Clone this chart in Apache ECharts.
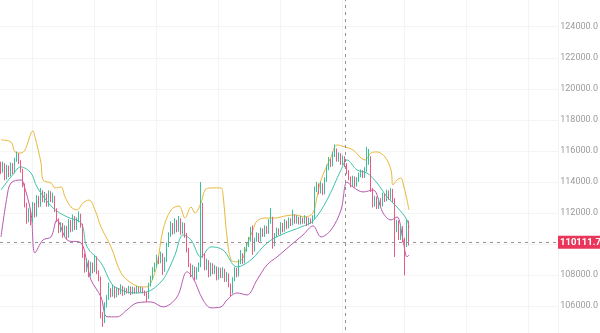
<!DOCTYPE html>
<html>
<head>
<meta charset="utf-8">
<script src="https://cdn.jsdelivr.net/npm/echarts@6/dist/echarts.min.js"></script>
<style>
html,body{margin:0;padding:0;background:#fff;}
#chart{width:600px;height:333px;}
</style>
</head>
<body>
<div id="chart"></div>
<script>
// ---- data ----
// candles: [open, close, low, high]
const candles = [
[115100,114760,114500,115300],[114760,115090,114600,115300],[115090,114250,114100,115200],[114250,114900,114150,115100],
[114900,114440,114300,115050],[114440,115090,114350,115250],[115090,114630,114500,115200],[114630,115410,114550,115550],
[115410,115730,115300,115950],[115730,115280,115150,115850],[115280,114760,114600,115400],[114760,113800,113650,114850],
[113800,112510,112350,113900],[112510,111540,111300,112650],[111540,112060,111400,112300],[112060,111420,111200,112200],
[111420,112510,111350,112700],[112510,111860,111700,112650],[111860,112960,111750,113150],[112960,112510,112350,113100],
[112510,113350,112400,113600],[113350,112830,112700,113450],[112830,113150,112650,113350],[113150,112510,112400,113250],
[112510,113290,112400,113450],[113290,112830,112700,113400],[112830,113030,112650,113300],[113030,112190,112050,113100],
[112190,111540,111400,112300],[111540,110900,110700,111650],[110900,111220,110750,111400],[111220,110580,110400,111350],
[110580,111030,110450,111200],[111030,110510,110300,111150],[110510,111420,110400,111600],[111420,110900,110750,111550],
[110900,111670,110800,111900],[111670,111030,110900,111800],[111030,111540,110900,111700],[111540,111860,111400,112100],
[111860,111220,111050,111950],[111220,109290,109100,111300],[109290,108320,108150,109400],[108320,108830,108200,109050],
[108830,108000,107850,108950],[108000,108640,107900,108850],[108640,108320,108100,108800],[108320,109090,108200,109300],
[109090,108190,108050,109200],[108190,107800,107600,108300],[107800,105420,105200,107900],[105420,105100,104650,105600],
[105100,106060,104900,106250],[106060,106520,105900,106700],[106520,107030,106400,107500],[107030,106710,106550,107150],
[106710,107160,106600,107350],[107160,106640,106500,107250],[106640,107030,106550,107200],[107030,106840,106700,107150],
[106840,107220,106750,107400],[107220,106780,106650,107300],[106780,107030,106700,107200],[107030,106910,106800,107150],
[106910,107160,106800,107300],[107160,106840,106700,107250],[106840,107100,106750,107250],[107100,106910,106800,107200],
[106910,107160,106800,107300],[107160,106970,106850,107250],[106970,107100,106850,107250],[107100,106910,106800,107200],
[106910,106780,106650,107000],[106780,106520,106250,106900],[106520,107350,106450,107500],[107350,107800,107250,107950],
[107800,108320,107700,108500],[108320,108640,108200,108800],[108640,109090,108500,109300],[109090,108830,108700,109200],
[108830,109290,108750,109500],[109290,108320,108000,109400],[108320,108960,108200,109150],[108960,109930,108850,110100],
[109930,110570,109800,110750],[110570,111220,110450,111450],[111220,110770,110600,111350],[110770,111420,110650,111650],
[111420,110900,110750,111550],[110900,111540,110800,111800],[111540,110770,110600,111650],[110770,111220,110650,111400],
[111220,110570,110400,111350],[110570,109610,109450,110700],[109610,108640,108500,109750],[108640,108000,107850,108750],
[108000,108450,107900,108650],[108450,107800,107650,108550],[107800,108320,107700,108500],[108320,108640,108200,108800],
[108640,112510,108500,113990],[112510,109290,109100,112650],[109290,108450,108300,109400],[108450,108830,108300,109050],
[108830,108000,107850,108950],[108000,108640,107900,108800],[108640,108190,108050,108750],[108190,108450,108050,108650],
[108450,107800,107650,108550],[107800,108320,107700,108500],[108320,107930,107800,108450],[107930,108320,107800,108500],
[108320,107680,107550,108400],[107680,108000,107550,108200],[108000,107350,107200,108100],[107350,106910,106600,107450],
[106910,107680,106800,107850],[107680,108320,107600,108500],[108320,108000,107850,108450],[108000,108830,107900,109000],
[108830,109290,108700,109600],[109290,108830,108700,109400],[108830,109610,108750,109800],[109610,109930,109500,110100],
[109930,110250,109800,110450],[110250,110770,110150,111100],[110770,109610,109300,111200],[109610,110250,109500,110400],
[110250,110570,110150,110750],[110570,110250,110100,110700],[110250,110900,110150,111050],[110900,110570,110450,111000],
[110570,111030,110450,111200],[111030,110770,110650,111150],[110770,111420,110650,111600],[111420,111670,111300,112320],
[111670,109930,109700,111750],[109930,110570,109850,110700],[110570,110900,110450,111050],[110900,110700,110550,111000],
[110700,111220,110600,111400],[111220,110900,110750,111350],[110900,111420,110800,111600],[111420,111090,110950,111500],
[111090,111540,111000,111700],[111540,111290,111150,111650],[111290,111800,111200,112200],[111800,111420,111300,111900],
[111420,111670,111300,111850],[111670,111350,111250,111750],[111350,111610,111250,111800],[111610,111420,111300,111700],
[111420,111670,111300,111850],[111670,111290,111150,111750],[111290,111540,111200,111700],[111540,111420,111300,111650],
[111420,111670,111300,111850],[111670,113470,111600,113700],[113470,113800,113350,114000],[113800,113350,113200,113900],
[113350,113800,113250,114000],[113800,113290,113150,113900],[113290,114120,113200,114300],[114120,114890,114000,115100],
[114890,115410,114750,115600],[115410,115090,114950,115500],[115090,115730,115000,115950],[115730,116050,115600,116420],
[116050,115410,115300,116150],[115410,115730,115300,115900],[115730,115220,115100,115850],[115220,115540,115100,115700],
[115540,115090,114950,115650],[115090,114630,114500,115200],[114630,114250,114100,114750],[114250,113800,113650,114350],
[113800,114250,113700,114400],[114250,113800,113650,114350],[113800,114120,113700,114300],[114120,114440,114000,114600],
[114440,114630,114300,114800],[114630,114380,114250,114750],[114380,114760,114250,114950],[114760,115280,114650,116250],
[115280,115540,115100,116120],[115540,113470,113350,115650],[113470,112510,112350,113600],[112510,112960,112400,113100],
[112960,112380,112250,113050],[112380,112830,112250,112950],[112830,112510,112400,112950],[112510,113150,112400,113300],
[113150,112830,112700,113250],[112830,113350,112750,113500],[113350,112960,112850,113450],[112960,113470,112850,113600],
[113470,112830,112700,113550],[112830,110900,109160,112950],[110900,111420,110750,111550],[111420,110380,110250,111500],
[110380,111030,110250,111200],[111030,110250,110100,111150],[110250,109930,107970,110400],[109930,111420,109800,111550],
[111420,110111.7,109900,111500]
];
// Bollinger bands, read at sample positions: [candle index, value]
const upperBand = [
[0,116700],[5,116570],[7,115930],[10,115860],[12,116060],[16,117280],[17,116890],[20,115220],[21,114120],[25,113930],
[27,113610],[30,113670],[32,113030],[35,112380],[38,112190],[41,112640],[44,112830],[47,112190],[50,111090],[55,109810],
[60,108130],[65,107490],[70,107230],[73,107230],[75,107490],[78,108650],[81,110900],[85,112190],[89,112450],[92,111670],
[95,112380],[97,112000],[100,112640],[102,113480],[105,113610],[110,113610],[111,113160],[113,110450],[115,108970],[118,108840],
[121,109100],[123,109935],[126,110900],[128,111480],[132,111670],[137,111670],[142,111800],[147,111870],[152,111740],[156,112000],
[158,113030],[160,114120],[165,115600],[168,116380],[172,116250],[176,116060],[180,115540],[182,115410],[185,115860],[188,115930],
[192,115600],[195,114770],[196,113800],[198,114120],[200,114250],[201,113930],[203,112830],[204,112190]
];
const middleBand = [
[0,113480],[5,114320],[10,114960],[15,114570],[18,113670],[26,112320],[33,111740],[40,111350],[43,109810],[50,108780],
[55,107490],[58,107160],[66,106840],[73,106910],[80,107550],[83,108130],[87,109290],[91,110580],[95,110260],[100,109160],
[105,109810],[111,109610],[118,108520],[125,108970],[133,110060],[141,110640],[150,111090],[156,111480],[163,112830],[170,114770],
[173,115410],[178,114770],[183,114570],[188,113930],[193,113030],[198,112380],[203,111545],[204,111030]
];
const lowerBand = [
[0,110450],[3,113030],[5,113930],[10,114120],[11,113990],[15,112000],[17,109420],[21,110260],[25,110450],[28,111545],
[33,110260],[40,110060],[43,108780],[45,107680],[50,106580],[53,105300],[58,105300],[63,105750],[68,106200],[75,106260],
[81,105940],[88,106580],[93,108200],[96,107810],[101,106390],[105,105880],[110,105940],[113,106390],[118,106840],[123,106710],
[128,107680],[133,108650],[138,109160],[145,109935],[151,110580],[156,111160],[160,110450],[165,110900],[170,112190],[173,113990],
[176,113670],[181,113350],[186,113480],[191,112000],[195,111545],[198,111740],[201,110260],[203,109160],[204,109290]
];
const slotCount = 279;               // visible category slots (incl. empty future area)
const categories = Array.from({length: slotCount}, (_, i) => String(i));
const crosshairCategory = '172';
const lastPrice = 110111.7;

// ---- chart ----
const chart = echarts.init(document.getElementById('chart'), null, {renderer: 'canvas'});
const ohlc = candles.map(c => [c[0], c[1], c[2], c[3]]);
const lineCommon = {type: 'line', showSymbol: false, smooth: 0.35, silent: true, z: 3};
chart.setOption({
  animation: false,
  backgroundColor: '#ffffff',
  grid: {left: 0, right: 42, top: -4.3, bottom: -4, containLabel: false, outerBoundsMode: 'none'},
  xAxis: {
    type: 'category', data: categories, boundaryGap: true,
    axisLine: {show: false}, axisTick: {show: false}, axisLabel: {show: false},
    splitLine: {show: true, interval: (idx) => idx % 31 === 16, lineStyle: {color: '#f4f4f4', width: 1}}
  },
  yAxis: {
    type: 'value', position: 'right', min: 104000, max: 126000, interval: 2000,
    axisLine: {show: false}, axisTick: {show: false},
    splitLine: {show: true, lineStyle: {color: '#f4f4f4', width: 1}},
    axisLabel: {
      showMinLabel: false, showMaxLabel: false, inside: false, align: 'right', margin: 40,
      color: '#9b9b9b', fontSize: 9, fontFamily: 'Roboto',
      formatter: v => v.toFixed(1)
    }
  },
  series: [
    Object.assign({name: 'UB', data: upperBand, lineStyle: {color: '#e9b93c', width: 1}}, lineCommon),
    Object.assign({name: 'MB', data: middleBand, lineStyle: {color: '#3fc4ae', width: 1}}, lineCommon),
    Object.assign({name: 'LB', data: lowerBand, lineStyle: {color: '#b65ab2', width: 1}}, lineCommon),
    {
      type: 'candlestick', name: 'K', data: ohlc, barWidth: 1.1, z: 4,
      itemStyle: {color: '#38bf9c', color0: '#ec5a80', borderColor: '#38bf9c', borderColor0: '#ec5a80', borderWidth: 1},
      markLine: {
        silent: true, symbol: 'none', animation: false,
        data: [
          {xAxis: crosshairCategory, lineStyle: {color: '#8f8f8f', type: [3, 4], width: 1}, label: {show: false}},
          {yAxis: lastPrice, lineStyle: {color: '#9a8f93', type: [3, 4], width: 1},
           label: {show: true, position: 'end', distance: 0, formatter: () => lastPrice.toFixed(1),
                   backgroundColor: '#e8375a', color: '#ffffff', fontSize: 9.5, fontWeight: 'bold',
                   fontFamily: 'Roboto', padding: [2, 1, 1, 2]}}
        ]
      }
    }
  ]
});
</script>
</body>
</html>
